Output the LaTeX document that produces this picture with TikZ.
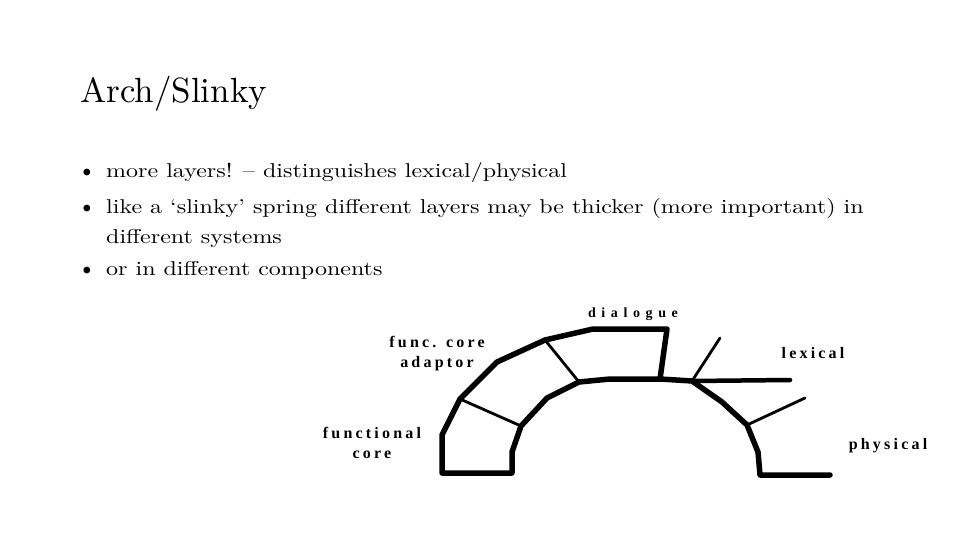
\documentclass[tikz,border=0pt]{standalone}
\usepackage{fontspec}
\newfontfamily\titlefont{lmroman10-regular.otf}[Ligatures=TeX]
\newfontfamily\bodyfont{lmroman10-regular.otf}[Ligatures=TeX, FakeStretch=1.2]
\newfontfamily\lblfont[LetterSpace=20]{Liberation Serif}
\begin{document}
\begin{tikzpicture}[x=1pt, y=-1pt,
  layer/.style={line width=5.5pt, line join=round, line cap=round},
  divider/.style={line width=2.8pt, line cap=round},
  lbl/.style={font=\fontsize{16}{20}\lblfont\bfseries, align=center, inner sep=0pt, anchor=base},
  item/.style={font=\fontsize{20}{24}\bodyfont, inner sep=0pt, anchor=base west},
  dot/.style={font=\fontsize{30}{30}\selectfont, inner sep=0pt, anchor=base}]

\useasboundingbox (0,0) rectangle (960,540);

\node[inner sep=0pt, anchor=base west, font=\fontsize{35}{40}\titlefont] (title) at (80,103) {Arch/Slinky};

\node[dot] (dot1) at (87,181) {\textbullet};
\node[item] (item1) at (106,178) {more layers! -- distinguishes lexical/physical};
\node[dot] (dot2) at (87,216) {\textbullet};
\node[item] (item2) at (106,213) {like a `slinky' spring different layers may be thicker (more important) in};
\node[item] (item2b) at (106,243) {different systems};
\node[dot] (dot3) at (87,278) {\textbullet};
\node[item] (item3) at (106,275) {or in different components};

\coordinate (o1) at (442,473);
\coordinate (o2) at (442,435);
\coordinate (o3) at (460,399);
\coordinate (o4) at (497,362);
\coordinate (o5) at (545,340);
\coordinate (o6) at (593,329);
\coordinate (o7) at (667,329);
\coordinate (o8) at (660,379);
\coordinate (b1) at (512,473);
\coordinate (b2) at (512,452);
\coordinate (b3) at (521,426);
\coordinate (b4) at (547,398);
\coordinate (b5) at (579,382);
\coordinate (b6) at (610,379);
\coordinate (b7) at (660,379);
\coordinate (b8) at (692,381);
\coordinate (c1) at (722,402);
\coordinate (c2) at (747,425);
\coordinate (c3) at (758,452);
\coordinate (c4) at (760,475);
\coordinate (c5) at (830,475);
\coordinate (lx1) at (790,380);
\coordinate (lx2) at (720,338);
\coordinate (ph) at (805,398);

\draw[layer] (b7) -- (o8) -- (o7) -- (o6) -- (o5) -- (o4) -- (o3) -- (o2) -- (o1) -- (b1) -- (b2) -- (b3) -- (b4) -- (b5) -- (b6) -- (b7) -- (b8) -- (c1) -- (c2) -- (c3) -- (c4) -- (c5);
\draw[layer, line width=4.5pt] (b8) -- (lx1);
\draw[divider] (b8) -- (lx2);
\draw[divider] (c2) -- (ph);
\draw[divider] (o5) -- (b5);
\draw[divider] (o3) -- (b3);

\node[lbl, font=\fontsize{14}{16}\lblfont\bfseries\addfontfeature{LetterSpace=40}] (dialogue) at (633,317) {dialogue};
\node[lbl] (adaptor) at (437,367) {func. core\\adaptor};
\node[lbl] (core) at (372,458) {functional\\core};
\node[lbl] (lexical) at (813,358) {lexical};
\node[lbl] (physical) at (888,449) {physical};

\end{tikzpicture}
\end{document}
